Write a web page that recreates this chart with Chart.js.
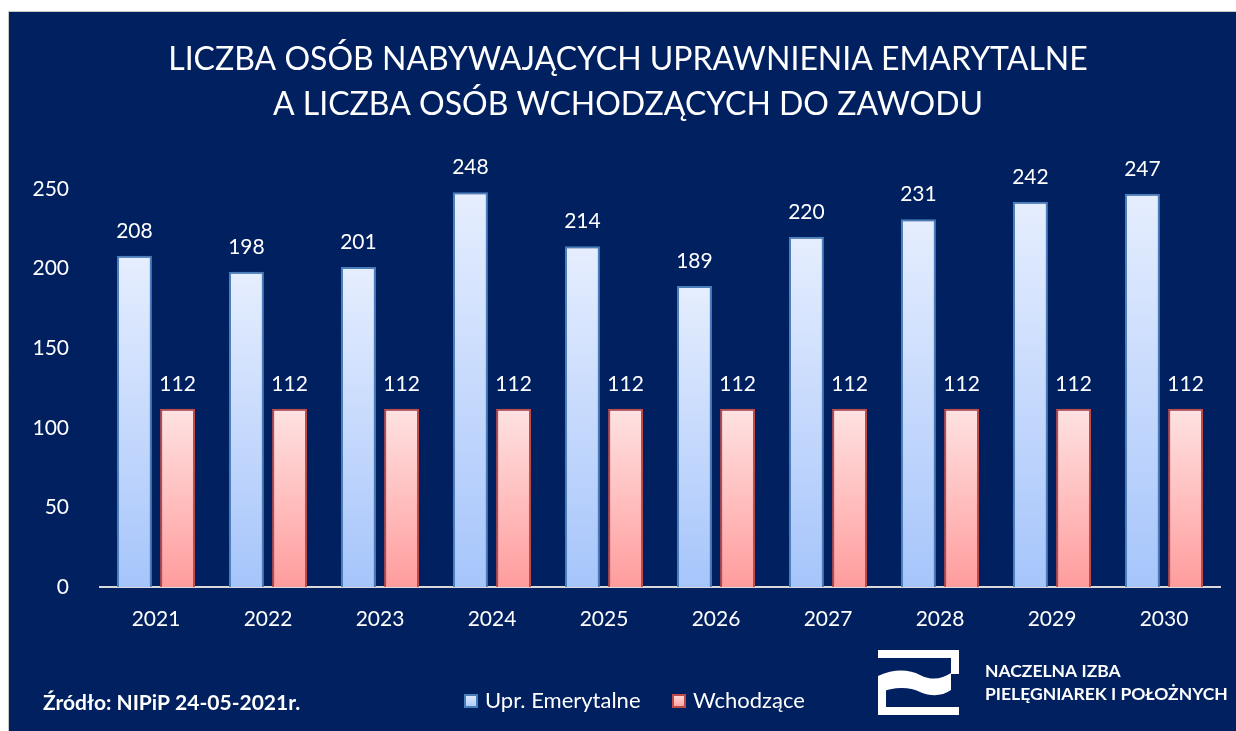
<!DOCTYPE html>
<html>
<head>
<meta charset="utf-8">
<script src="https://cdn.jsdelivr.net/npm/chart.js@4/dist/chart.umd.min.js"></script>
<style>
  html, body { margin: 0; padding: 0; background: #fff; }
  #wrap { width: 1236px; height: 731px; }
</style>
</head>
<body>
<div id="wrap"><canvas id="chart" width="1236" height="731"></canvas></div>
<script>
const years = ['2021', '2022', '2023', '2024', '2025', '2026', '2027', '2028', '2029', '2030'];
const emerytalne = [208, 198, 201, 248, 214, 189, 220, 231, 242, 247];
const wchodzace = [112, 112, 112, 112, 112, 112, 112, 112, 112, 112];
const yTicks = [0, 50, 100, 150, 200, 250];

const titleLines = ['LICZBA OSÓB NABYWAJĄCYCH UPRAWNIENIA EMARYTALNE', 'A LICZBA OSÓB WCHODZĄCYCH DO ZAWODU'];
const seriesNames = ['Upr. Emerytalne', 'Wchodzące'];
const sourceText = 'Źródło: NIPiP 24-05-2021r.';
const logoLines = ['NACZELNA IZBA', 'PIELĘGNIAREK I POŁOŻNYCH'];

const NAVY = '#002060';
const FONT = 'Lato, "Open Sans", sans-serif';

// gradient fill per bar, light on top, darker at the base
function barGradient(topCol, botCol, solid) {
    return function(c) {
        const chart = c.chart;
        if (!chart.chartArea || c.type !== 'data') return solid;
        const y = chart.scales.y;
        const top = y.getPixelForValue(c.raw);
        const bot = y.getPixelForValue(0);
        const g = chart.ctx.createLinearGradient(0, top, 0, bot);
        g.addColorStop(0, topCol);
        g.addColorStop(1, botCol);
        return g;
    };
}

const backdrop = {
    id: 'backdrop',
    beforeDraw(chart) {
        const ctx = chart.ctx;
        ctx.save();
        ctx.fillStyle = '#ffffff';
        ctx.fillRect(0, 0, chart.width, chart.height);
        ctx.fillStyle = NAVY;
        ctx.fillRect(9, 12, chart.width - 9, chart.height - 12);
        ctx.strokeStyle = '#c8c8c8';
        ctx.lineWidth = 1;
        ctx.beginPath();
        ctx.moveTo(8.5, chart.height);
        ctx.lineTo(8.5, 11.5);
        ctx.lineTo(chart.width, 11.5);
        ctx.stroke();
        ctx.restore();
    }
};

const extras = {
    id: 'extras',
    afterDatasetsDraw(chart) {
        const ctx = chart.ctx;
        ctx.save();
        // value labels
        ctx.fillStyle = '#ffffff';
        ctx.font = '21px ' + FONT;
        ctx.textAlign = 'center';
        ctx.textBaseline = 'alphabetic';
        chart.data.datasets.forEach((ds, i) => {
            chart.getDatasetMeta(i).data.forEach((el, j) => {
                ctx.fillText(String(ds.data[j]), el.x, el.y - 18);
            });
        });

        // title
        ctx.font = '32px ' + FONT;
        ctx.fillText(titleLines[0], 628, 70);
        ctx.fillText(titleLines[1], 628, 115);

        // source
        ctx.textAlign = 'left';
        ctx.font = 'bold 21px ' + FONT;
        ctx.fillText(sourceText, 43, 710);

        // legend
        const items = [
            { x: 464, fill: ['#e4ecfd', '#a9c8fc'], border: '#4a7ebb', text: seriesNames[0] },
            { x: 672, fill: ['#ffe0e0', '#ff9c9c'], border: '#be4b48', text: seriesNames[1] }
        ];
        ctx.font = '22px ' + FONT;
        items.forEach(it => {
            const g = ctx.createLinearGradient(0, 694, 0, 708);
            g.addColorStop(0, it.fill[0]);
            g.addColorStop(1, it.fill[1]);
            ctx.fillStyle = g;
            ctx.fillRect(it.x, 694, 14, 14);
            ctx.strokeStyle = it.border;
            ctx.lineWidth = 2;
            ctx.strokeRect(it.x + 1, 695, 12, 12);
            ctx.fillStyle = '#ffffff';
            ctx.fillText(it.text, it.x + 21, 708);
        });

        // logo mark
        ctx.fillStyle = '#ffffff';
        ctx.fillRect(878, 650, 81, 8);
        ctx.fillRect(951, 650, 8, 24);
        ctx.fillRect(878, 707, 81, 8);
        ctx.fillRect(878, 690, 8, 25);
        ctx.beginPath();
        ctx.moveTo(878, 676);
        ctx.bezierCurveTo(895, 668, 910, 670, 920, 675);
        ctx.bezierCurveTo(932, 681, 942, 679, 951, 673);
        ctx.lineTo(951, 690);
        ctx.bezierCurveTo(942, 696, 932, 697, 920, 692);
        ctx.bezierCurveTo(910, 687, 895, 686, 878, 693);
        ctx.closePath();
        ctx.fill();

        ctx.font = 'bold 17.5px ' + FONT;
        ctx.fillText(logoLines[0], 985, 677);
        ctx.fillText(logoLines[1], 985, 700);
        ctx.restore();
    }
};

new Chart(document.getElementById('chart'), {
    type: 'bar',
    data: {
        labels: years,
        datasets: [
            {
                label: seriesNames[0],
                data: emerytalne,
                backgroundColor: barGradient('#e6eefe', '#a6c5fb', '#c9dafc'),
                borderColor: '#4a7ebb',
                borderWidth: 2
            },
            {
                label: seriesNames[1],
                data: wchodzace,
                backgroundColor: barGradient('#ffe2e2', '#ff9c9c', '#ffc0c0'),
                borderColor: '#be4b48',
                borderWidth: 2
            }
        ]
    },
    options: {
        responsive: false,
        animation: false,
        categoryPercentage: 0.77,
        barPercentage: 0.81,
        layout: { padding: { left: 0, top: 189, right: 16, bottom: 104 } },
        plugins: {
            legend: { display: false },
            title: { display: false },
            tooltip: { enabled: false }
        },
        scales: {
            y: {
                min: 0,
                max: 250,
                afterBuildTicks: s => { s.ticks = yTicks.map(v => ({ value: v })); },
                afterFit: s => { s.width = 100; },
                grid: { display: false },
                border: { display: false },
                ticks: { color: '#ffffff', font: { family: FONT, size: 21 }, padding: 23 }
            },
            x: {
                afterFit: s => { s.height = 40; },
                grid: { display: false },
                border: { color: '#d9d9d9', width: 2 },
                ticks: { color: '#ffffff', font: { family: FONT, size: 21 }, padding: 12 }
            }
        }
    },
    plugins: [backdrop, extras]
});
</script>
</body>
</html>
